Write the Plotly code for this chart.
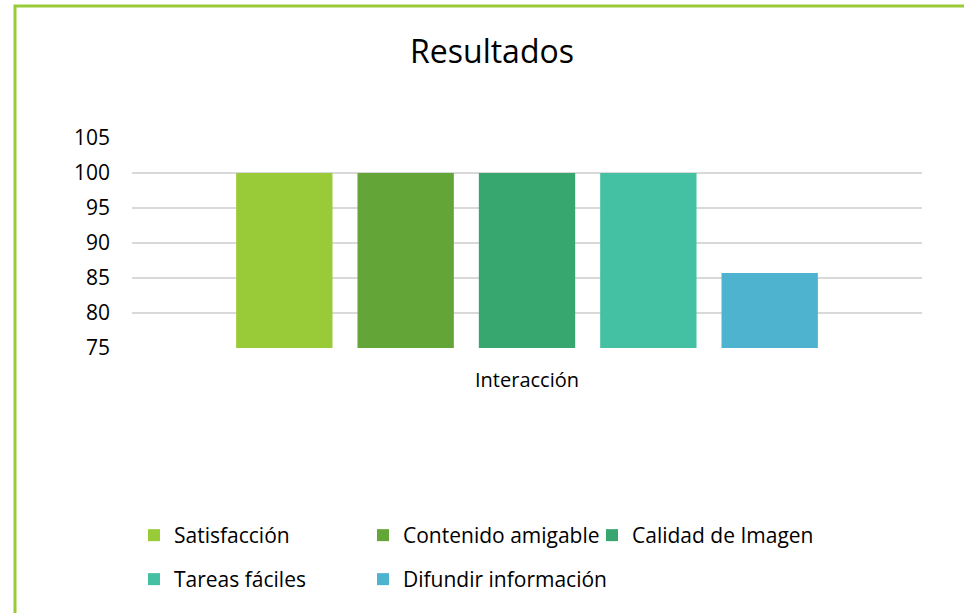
import plotly.graph_objects as go

categories = ["Interacción"]
series_names = ["Satisfacción", "Contenido amigable", "Calidad de Imagen", "Tareas fáciles", "Difundir información"]
series_values = [[100], [100], [100], [100], [85.71]]
series_colors = ["#99CB38", "#63A537", "#37A76F", "#44C1A3", "#4EB3CF"]
series_legends = ["legend", "legend", "legend", "legend2", "legend3"]
y_ticks = [75, 80, 85, 90, 95, 100, 105]

FONT = "Open Sans"

fig = go.Figure()
for name, vals, col, lg in zip(series_names, series_values, series_colors, series_legends):
    fig.add_trace(go.Bar(x=categories, y=vals, name=name, legend=lg,
                         marker=dict(color=col, line=dict(width=0))))

W, H = 964, 613
L, R, T, B = 132, 42, 138, 265
pw, ph = W - L - R, H - T - B

def px_x(x):
    return (x - L) / pw

def px_y(y):
    return (H - B - y) / ph

legend_common = dict(orientation="h", xanchor="left", yanchor="top",
                     entrywidthmode="pixels", traceorder="normal",
                     font=dict(family=FONT, size=21, color="#000000"), itemwidth=30,
                     bgcolor="rgba(0,0,0,0)")

fig.update_layout(
    width=W, height=H,
    margin=dict(l=L, r=R, t=T, b=B),
    paper_bgcolor="white", plot_bgcolor="white",
    barmode="group", bargap=0.232, bargroupgap=0.206,
    font=dict(family=FONT, color="#000000", size=20),
    title=dict(text="Resultados", x=492 / W, xanchor="center", y=1 - 52 / H, yanchor="middle",
               font=dict(family=FONT, size=32, color="#000000")),
    showlegend=True,
    legend=dict(x=px_x(134), y=px_y(515), entrywidth=184, **legend_common),
    legend2=dict(x=px_x(134), y=px_y(559), entrywidth=184, **legend_common),
    legend3=dict(x=px_x(363), y=px_y(559), entrywidth=240, **legend_common),
    xaxis=dict(showgrid=False, showline=False, ticks="", ticklabelstandoff=18,
               tickfont=dict(family=FONT, size=20, color="#000000")),
    yaxis=dict(range=[75, 105], tickvals=y_ticks, showgrid=True, gridcolor="#D9D9D9", gridwidth=1.5,
               zeroline=False, showline=False, ticks="", ticklabelstandoff=21,
               tickfont=dict(family=FONT, size=21, color="#000000")),
    shapes=[dict(type="rect", xref="paper", yref="paper",
                 x0=px_x(15), x1=px_x(975), y0=px_y(625), y1=px_y(6),
                 line=dict(color="#99CB38", width=3), fillcolor="rgba(0,0,0,0)", layer="above")],
)

fig.write_html("out.html", config={"displayModeBar": False},
               post_script="document.body.style.margin='0';")
